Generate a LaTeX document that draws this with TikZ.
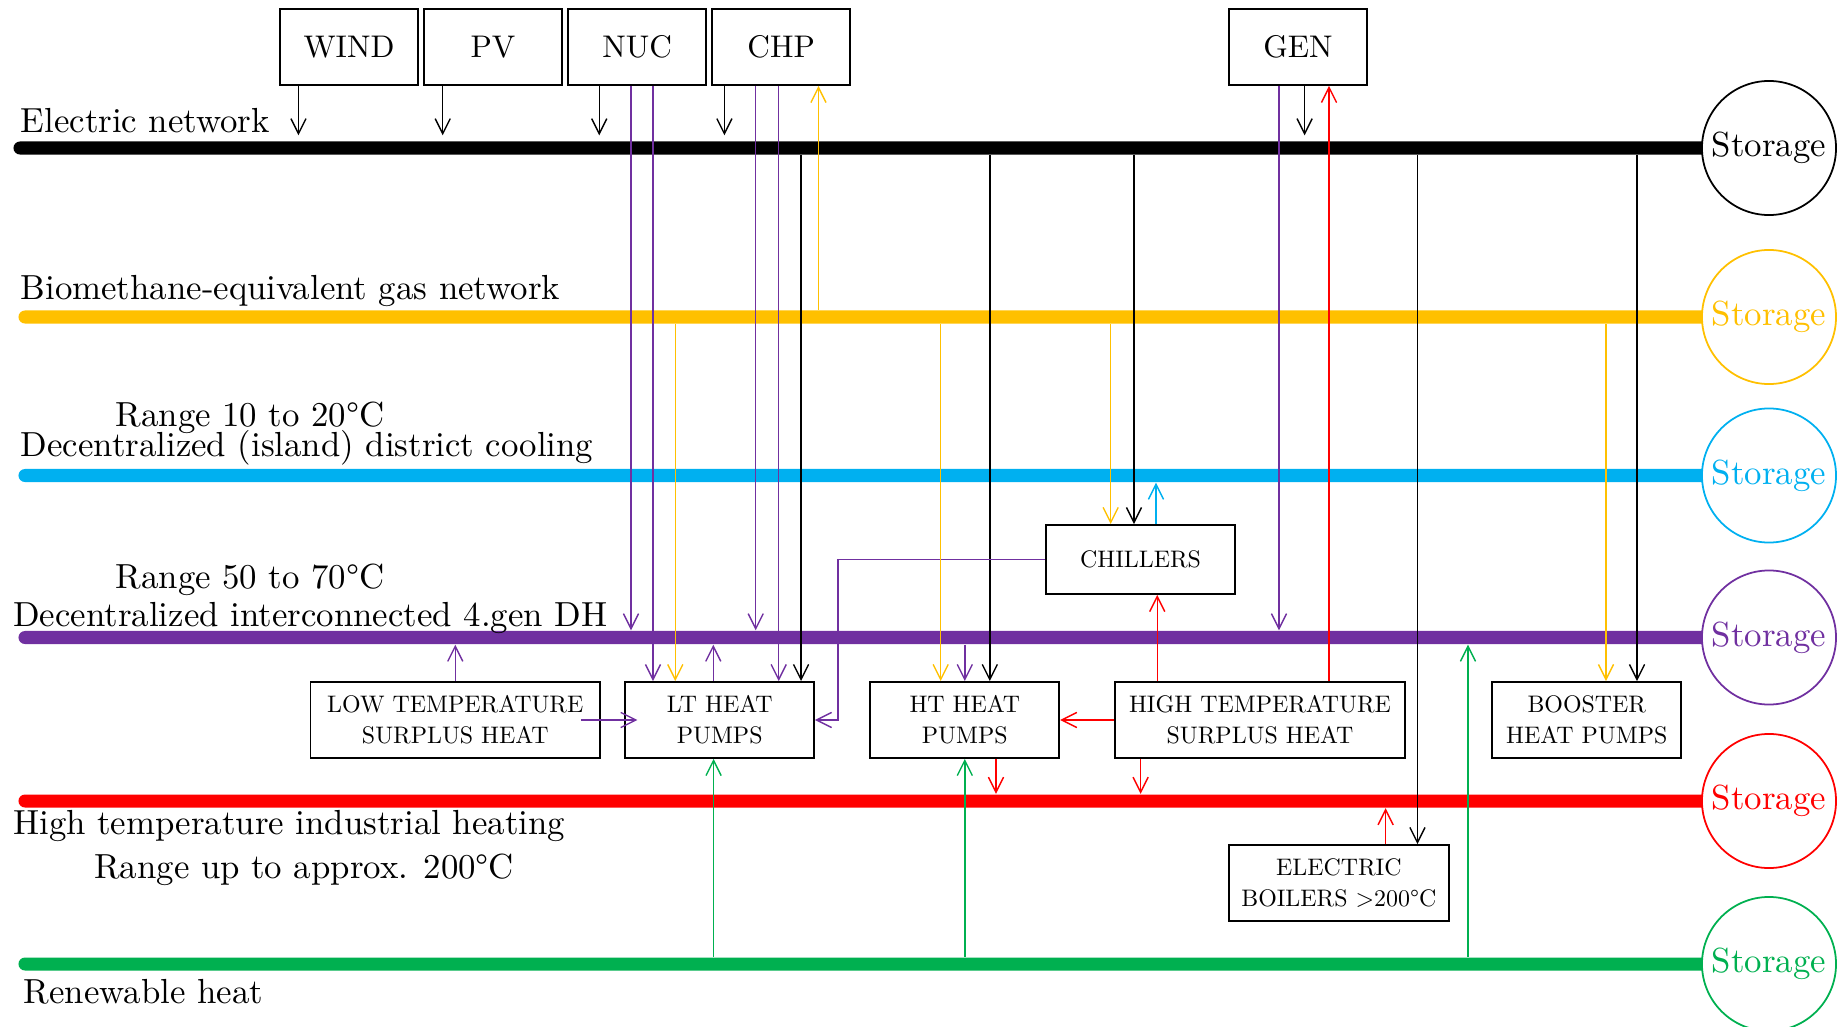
\documentclass[tikz,border=0pt]{standalone}
\usepackage{fontspec}
\newfontfamily\boxfont{lmroman10-regular.otf}
\usetikzlibrary{arrows.meta,positioning}
\definecolor{elcol}{RGB}{0,0,0}
\definecolor{gascol}{RGB}{255,192,0}
\definecolor{coolcol}{RGB}{0,176,240}
\definecolor{dhcol}{RGB}{112,48,160}
\definecolor{htcol}{RGB}{255,0,0}
\definecolor{rencol}{RGB}{0,176,80}
\begin{document}
\begin{tikzpicture}[x=0.01cm,y=-0.01cm,
		bus/.style={minimum width=17.5cm,minimum height=0.13cm,inner sep=0,rounded corners=0.065cm},
		store/.style={circle,fill=white,minimum size=1.34cm,inner sep=0,line width=0.5pt,font=\fontsize{9.9}{12}\selectfont},
		lbl/.style={anchor=base west,inner sep=0,font=\fontsize{9.9}{12}\selectfont},
		srcbox/.style={draw,line width=0.5pt,minimum width=1.38cm,minimum height=0.76cm,inner sep=0,font=\boxfont\fontsize{8.9}{10}\selectfont},
		unitbox/.style={draw,line width=0.5pt,minimum height=0.76cm,inner sep=0,align=center,font=\boxfont\fontsize{6.8}{8.9}\selectfont},
		flow/.style={line width=0.4pt,-{Straight Barb[length=4.3pt,width=4.3pt]}}]
		\useasboundingbox (0,0) rectangle (1841,1027);
		\begin{scope}[nodes={bus}]
		\node[fill=elcol,minimum width=17.55cm] (elbus) at (891.5,148) {};
		\node[fill=gascol] (gasbus) at (894,317) {};
		\node[fill=coolcol] (coolbus) at (894,475.5) {};
		\node[fill=dhcol] (dhbus) at (894,637.5) {};
		\node[fill=htcol] (htbus) at (894,801) {};
		\node[fill=rencol] (renbus) at (894,964) {};
		\end{scope}
		\begin{scope}[nodes={lbl}]
		\node (ellbl) at (20,133) {Electric network};
		\node (gaslbl) at (20,299) {Biomethane-equivalent gas network};
		\node (coolrange) at (115,426) {Range 10 to 20°C};
		\node (coollbl) at (20,456.7) {Decentralized (island) district cooling};
		\node (dhrange) at (115,588) {Range 50 to 70°C};
		\node (dhlbl) at (12.6,626) {Decentralized interconnected 4.gen DH};
		\node (htlbl) at (12.6,834) {High temperature industrial heating};
		\node (htrange) at (93.6,878) {Range up to approx. 200°C};
		\node (renlbl) at (23,1003) {Renewable heat};
		\end{scope}
		\begin{scope}[nodes={srcbox}]
		\node (wind) at (349,47) {WIND};
		\node[right=0.042cm of wind] (pv) {PV};
		\node[right=0.042cm of pv] (nuc) {NUC};
		\node[right=0.042cm of nuc] (chp) {CHP};
		\node (gen) at (1298,47) {GEN};
		\end{scope}
		\begin{scope}[nodes={unitbox}]
		\node[minimum width=2.894cm] (lowtemp) at (455.3,720) {LOW TEMPERATURE\\SURPLUS HEAT};
		\node[minimum width=1.887cm] (ltpumps) at (719.7,720) {LT HEAT\\PUMPS};
		\node[minimum width=1.89cm] (htpumps) at (964.8,720) {HT HEAT\\PUMPS};
		\node[minimum width=2.894cm] (htsurplus) at (1260,720) {HIGH TEMPERATURE\\SURPLUS HEAT};
		\node[minimum width=1.89cm] (booster) at (1586.8,720) {BOOSTER\\HEAT PUMPS};
		\node[minimum width=1.89cm,minimum height=0.69cm] (chillers) at (1140.5,559.5) {CHILLERS};
		\node[minimum width=2.196cm] (boilers) at (1338.8,883) {ELECTRIC\\BOILERS >200°C};
		\end{scope}
		\begin{scope}[flow,elcol]
		\draw[shorten >=0.055cm] ([xshift=-0.505cm]wind.south) -- ([xshift=-0.505cm]wind.south |- elbus.north);
		\draw[shorten >=0.055cm] ([xshift=-0.503cm]pv.south) -- ([xshift=-0.503cm]pv.south |- elbus.north);
		\draw[shorten >=0.055cm] ([xshift=-0.378cm]nuc.south) -- ([xshift=-0.378cm]nuc.south |- elbus.north);
		\draw[shorten >=0.055cm] ([xshift=-0.567cm]chp.south) -- ([xshift=-0.567cm]chp.south |- elbus.north);
		\draw[shorten >=0.055cm] ([xshift=0.066cm]gen.south) -- ([xshift=0.066cm]gen.south |- elbus.north);
		\draw ([xshift=0.813cm]ltpumps.north |- elbus.south) -- ([xshift=0.813cm]ltpumps.north);
		\draw ([xshift=0.25cm]htpumps.north |- elbus.south) -- ([xshift=0.25cm]htpumps.north);
		\draw ([xshift=-0.065cm]chillers.north |- elbus.south) -- ([xshift=-0.065cm]chillers.north);
		\draw ([xshift=0.786cm]boilers.north |- elbus.south) -- ([xshift=0.786cm]boilers.north);
		\draw ([xshift=0.502cm]booster.north |- elbus.south) -- ([xshift=0.502cm]booster.north);
		\end{scope}
		\begin{scope}[flow,dhcol]
		\draw ([xshift=-0.061cm]nuc.south) -- ([xshift=-0.061cm]nuc.south |- dhbus.north);
		\draw ([xshift=0.159cm]nuc.south) -- ([xshift=0.159cm]nuc.south |- ltpumps.north);
		\draw ([xshift=-0.254cm]chp.south) -- ([xshift=-0.254cm]chp.south |- dhbus.north);
		\draw ([xshift=-0.024cm]chp.south) -- ([xshift=-0.024cm]chp.south |- ltpumps.north);
		\draw ([xshift=-0.19cm]gen.south) -- ([xshift=-0.19cm]gen.south |- dhbus.north);
		\draw ([xshift=-0.064cm]ltpumps.north) -- ([xshift=-0.064cm]ltpumps.north |- dhbus.south);
		\draw (lowtemp.north) -- (lowtemp.north |- dhbus.south);
		\draw ([xshift=-0.2cm]lowtemp.east) -- ([xshift=0.13cm]ltpumps.west);
		\draw (chillers.west) -- ++(-207,0) |- (ltpumps.east);
		\draw (htpumps.north |- dhbus.south) -- (htpumps.north);
		\end{scope}
		\begin{scope}[flow,gascol]
		\draw ([xshift=0.373cm]chp.south |- gasbus.north) -- ([xshift=0.373cm]chp.south);
		\draw ([xshift=-0.444cm]ltpumps.north |- gasbus.south) -- ([xshift=-0.444cm]ltpumps.north);
		\draw ([xshift=-0.241cm]htpumps.north |- gasbus.south) -- ([xshift=-0.241cm]htpumps.north);
		\draw ([xshift=-0.298cm]chillers.north |- gasbus.south) -- ([xshift=-0.298cm]chillers.north);
		\draw ([xshift=0.192cm]booster.north |- gasbus.south) -- ([xshift=0.192cm]booster.north);
		\end{scope}
		\draw[flow,coolcol] ([xshift=0.155cm]chillers.north) -- ([xshift=0.155cm]chillers.north |- coolbus.south);
		\begin{scope}[flow,htcol]
		\draw ([xshift=-1.027cm]htsurplus.north) -- ([xshift=-1.027cm]htsurplus.north |- chillers.south);
		\draw ([xshift=0.69cm]htsurplus.north) -- ([xshift=0.69cm]htsurplus.north |- gen.south);
		\draw (htsurplus.west) -- (htpumps.east);
		\draw ([xshift=0.312cm]htpumps.south) -- ([xshift=0.312cm]htpumps.south |- htbus.north);
		\draw ([xshift=-1.193cm]htsurplus.south) -- ([xshift=-1.193cm]htsurplus.south |- htbus.north);
		\draw ([xshift=0.468cm]boilers.north) -- ([xshift=0.468cm]boilers.north |- htbus.south);
		\end{scope}
		\begin{scope}[flow,rencol]
		\draw ([xshift=-0.061cm]ltpumps.south |- renbus.north) -- ([xshift=-0.061cm]ltpumps.south);
		\draw (htpumps.south |- renbus.north) -- (htpumps.south);
		\draw ([xshift=0.623cm]htsurplus.east |- renbus.north) -- ([xshift=0.623cm]htsurplus.east |- dhbus.south);
		\end{scope}
		\begin{scope}[nodes={store}]
		\node[draw=elcol,text=elcol] (elstore) at (1769,148) {Storage};
		\node[draw=gascol,text=gascol] (gasstore) at (1769,317) {Storage};
		\node[draw=coolcol,text=coolcol] (coolstore) at (1769,475.5) {Storage};
		\node[draw=dhcol,text=dhcol] (dhstore) at (1769,637.5) {Storage};
		\node[draw=htcol,text=htcol] (htstore) at (1769,801) {Storage};
		\node[draw=rencol,text=rencol] (renstore) at (1769,964) {Storage};
		\end{scope}
\end{tikzpicture}
\end{document}
